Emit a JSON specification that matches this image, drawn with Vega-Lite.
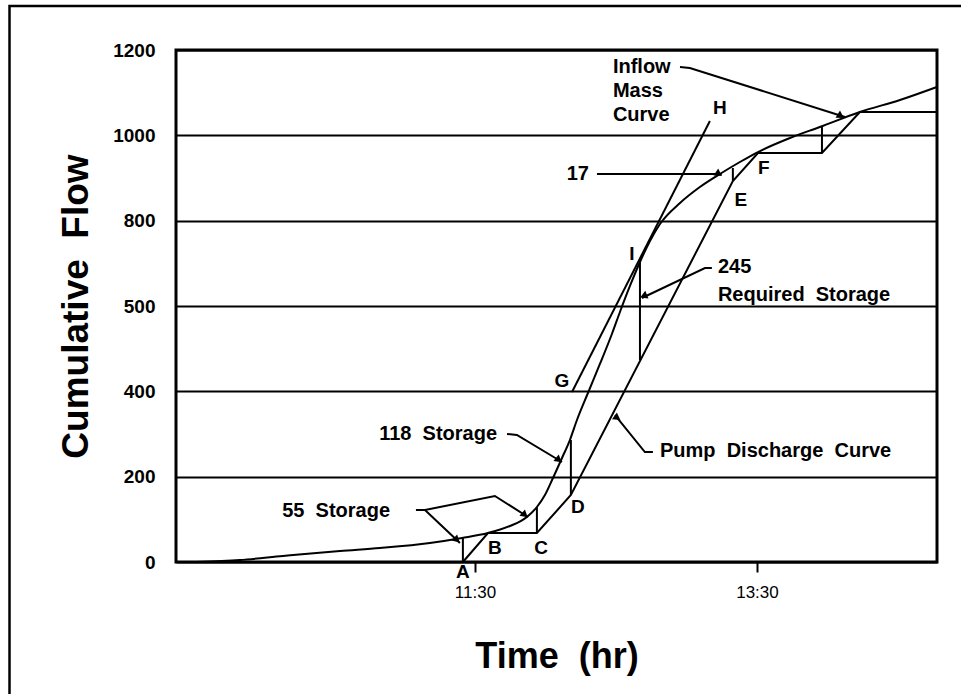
{
  "$schema": "https://vega.github.io/schema/vega-lite/v6.json",
  "autosize": {"type": "none"},
  "padding": {"left": 176, "top": 50, "right": 24, "bottom": 132},
  "width": 761,
  "height": 512,
  "background": "white",
  "config": {
    "view": {"stroke": "black", "strokeWidth": 3},
    "font": "Liberation Sans"
  },
  "datasets": {
    "frame": [{"x1": 8.198, "x2": 15.01, "y1": 1303.1, "y2": -346.9}],
    "inflow": [
      {"t": 9.521, "q": 0}, {"t": 9.833, "q": 4.7}, {"t": 10.138, "q": 14.1}, {"t": 10.542, "q": 25.8},
      {"t": 10.826, "q": 32.8}, {"t": 11.18, "q": 44.5}, {"t": 11.407, "q": 56.3}, {"t": 11.592, "q": 68.0},
      {"t": 11.748, "q": 84.4}, {"t": 11.868, "q": 105.5}, {"t": 11.939, "q": 128.9}, {"t": 11.996, "q": 157.0},
      {"t": 12.053, "q": 196.9}, {"t": 12.117, "q": 243.8}, {"t": 12.173, "q": 285.9}, {"t": 12.223, "q": 332.8},
      {"t": 12.301, "q": 396.1}, {"t": 12.386, "q": 464.1}, {"t": 12.471, "q": 534.4}, {"t": 12.528, "q": 585.9},
      {"t": 12.599, "q": 646.9}, {"t": 12.67, "q": 703.1}, {"t": 12.741, "q": 752.3}, {"t": 12.812, "q": 792.2},
      {"t": 12.954, "q": 841.4}, {"t": 13.095, "q": 878.9}, {"t": 13.237, "q": 909.4}, {"t": 13.379, "q": 937.5},
      {"t": 13.507, "q": 960.9}, {"t": 13.734, "q": 993.8}, {"t": 13.946, "q": 1019.5}, {"t": 14.23, "q": 1054.7},
      {"t": 14.514, "q": 1082.8}, {"t": 14.776, "q": 1113.3}
    ],
    "pump": [
      {"i": 1, "t": 11.414, "q": 0}, {"i": 2, "t": 11.592, "q": 68.0}, {"i": 3, "t": 11.939, "q": 68.0},
      {"i": 4, "t": 12.18, "q": 157.0}, {"i": 5, "t": 13.329, "q": 893.0}, {"i": 6, "t": 13.507, "q": 958.6},
      {"i": 7, "t": 13.961, "q": 958.6}, {"i": 8, "t": 14.23, "q": 1054.7}, {"i": 9, "t": 14.776, "q": 1054.7}
    ],
    "segments": [
      {"t": 11.414, "t2": 11.414, "q": 0, "q2": 56.25},
      {"t": 11.939, "t2": 11.939, "q": 68.0, "q2": 128.9},
      {"t": 12.18, "t2": 12.18, "q": 157.0, "q2": 285.9},
      {"t": 12.67, "t2": 12.67, "q": 703.1, "q2": 473.4},
      {"t": 13.329, "t2": 13.329, "q": 893.0, "q2": 923.4},
      {"t": 13.961, "t2": 13.961, "q": 958.6, "q2": 1019.5},
      {"t": 12.188, "t2": 13.166, "q": 398.4, "q2": 1033.6},
      {"t": 12.365, "t2": 13.25, "q": 909.4, "q2": 909.4}
    ],
    "leaders": [
      {"id": "a55A", "i": 1, "t": 11.081, "q": 121.9}, {"id": "a55A", "i": 2, "t": 11.145, "q": 121.9}, {"id": "a55A", "i": 3, "t": 11.393, "q": 44.5},
      {"id": "a55C", "i": 1, "t": 11.145, "q": 121.9}, {"id": "a55C", "i": 2, "t": 11.641, "q": 154.7}, {"id": "a55C", "i": 3, "t": 11.876, "q": 105.5},
      {"id": "a118", "i": 1, "t": 11.727, "q": 300.0}, {"id": "a118", "i": 2, "t": 11.797, "q": 297.7}, {"id": "a118", "i": 3, "t": 12.117, "q": 234.4},
      {"id": "a245", "i": 1, "t": 13.18, "q": 689.1}, {"id": "a245", "i": 2, "t": 13.131, "q": 689.1}, {"id": "a245", "i": 3, "t": 12.684, "q": 618.8},
      {"id": "apump", "i": 1, "t": 12.762, "q": 257.8}, {"id": "apump", "i": 2, "t": 12.705, "q": 257.8}, {"id": "apump", "i": 3, "t": 12.493, "q": 344.5},
      {"id": "ainflow", "i": 1, "t": 12.954, "q": 1160.2}, {"id": "ainflow", "i": 2, "t": 13.024, "q": 1157.8}, {"id": "ainflow", "i": 3, "t": 14.124, "q": 1043.0}
    ],
    "heads": [
      {"arrow": "a55A", "t": 11.372, "q": 51.6},
      {"arrow": "a55C", "t": 11.854, "q": 110.2},
      {"arrow": "a118", "t": 12.095, "q": 239.1},
      {"arrow": "a245", "t": 12.71, "q": 622.7},
      {"arrow": "apump", "t": 12.51, "q": 337.5},
      {"arrow": "a17", "t": 13.23, "q": 909.4},
      {"arrow": "ainflow", "t": 14.095, "q": 1045.3}
    ],
    "notesRight": [
      {"label": "55\u00a0\u00a0Storage", "t": 10.897, "q": 119.5},
      {"label": "118\u00a0\u00a0Storage", "t": 11.656, "q": 300.0},
      {"label": "17", "t": 12.308, "q": 909.4}
    ],
    "notesLeft": [
      {"label": "245", "t": 13.223, "q": 691.4},
      {"label": "Required\u00a0\u00a0Storage", "t": 13.223, "q": 625.8},
      {"label": "Pump\u00a0\u00a0Discharge\u00a0\u00a0Curve", "t": 12.812, "q": 260.2},
      {"label": "Inflow", "t": 12.478, "q": 1160.2},
      {"label": "Mass", "t": 12.478, "q": 1103.9},
      {"label": "Curve", "t": 12.478, "q": 1047.7}
    ],
    "letters": [
      {"label": "A", "t": 11.414, "q": -22.3},
      {"label": "B", "t": 11.641, "q": 32.8},
      {"label": "C", "t": 11.968, "q": 32.8},
      {"label": "D", "t": 12.23, "q": 128.9},
      {"label": "E", "t": 13.386, "q": 848.4},
      {"label": "F", "t": 13.549, "q": 923.4},
      {"label": "G", "t": 12.117, "q": 424.2},
      {"label": "H", "t": 13.237, "q": 1064.1},
      {"label": "I", "t": 12.613, "q": 721.9}
    ]
  },
  "encoding": {
    "x": {
      "field": "t", "type": "quantitative",
      "scale": {"domain": [9.379, 14.777], "nice": false, "zero": false},
      "axis": {
        "values": [11.5, 13.5],
        "labelExpr": "datum.value == 11.5 ? '11:30' : '13:30'",
        "grid": false, "domain": false,
        "ticks": true, "tickColor": "black", "tickWidth": 2, "tickSize": 10,
        "labelFont": "Liberation Sans", "labelFontSize": 17, "labelColor": "black",
        "labelPadding": 12,
        "title": "Time\u00a0\u00a0(hr)",
        "titleFont": "Liberation Sans", "titleFontSize": 36, "titleFontWeight": "bold", "titleColor": "black",
        "titleX": 380.5, "titleY": 105, "titleBaseline": "alphabetic", "titleAlign": "center"
      }
    },
    "y": {
      "field": "q", "type": "quantitative",
      "scale": {"domain": [0, 1200], "nice": false},
      "axis": {
        "values": [0, 200, 400, 600, 800, 1000, 1200],
        "labelExpr": "datum.value == 600 ? '500' : datum.label",
        "format": "d",
        "grid": true, "gridColor": "black", "gridWidth": 2, "gridOpacity": 1,
        "domain": false, "ticks": false,
        "labelFont": "Liberation Sans", "labelFontSize": 19, "labelFontWeight": "bold", "labelColor": "black",
        "labelPadding": 21,
        "title": "Cumulative\u00a0\u00a0Flow",
        "titleFont": "Liberation Sans", "titleFontSize": 37, "titleFontWeight": "bold", "titleColor": "black",
        "titleX": -89, "titleY": 256, "titleBaseline": "alphabetic", "titleAlign": "center", "titleAngle": -90
      }
    }
  },
  "layer": [
    {
      "data": {"name": "frame"},
      "mark": {"type": "rect", "fill": null, "stroke": "black", "strokeWidth": 2.5, "clip": false},
      "encoding": {
        "x": {"field": "x1", "type": "quantitative"},
        "x2": {"field": "x2"},
        "y": {"field": "y1", "type": "quantitative"},
        "y2": {"field": "y2"}
      }
    },
    {
      "data": {"name": "inflow"},
      "mark": {"type": "line", "color": "black", "strokeWidth": 2, "interpolate": "monotone"},
      "encoding": {}
    },
    {
      "data": {"name": "pump"},
      "mark": {"type": "line", "color": "black", "strokeWidth": 2},
      "encoding": {"order": {"field": "i", "type": "quantitative"}}
    },
    {
      "data": {"name": "segments"},
      "mark": {"type": "rule", "color": "black", "strokeWidth": 2},
      "encoding": {"x2": {"field": "t2"}, "y2": {"field": "q2"}}
    },
    {
      "data": {"name": "leaders"},
      "mark": {"type": "line", "color": "black", "strokeWidth": 2, "clip": false},
      "encoding": {"detail": {"field": "id"}, "order": {"field": "i", "type": "quantitative"}}
    },
    {
      "data": {"name": "heads"},
      "mark": {"type": "point", "shape": "triangle-right", "filled": true, "color": "black", "opacity": 1, "size": 70},
      "encoding": {
        "angle": {
          "field": "arrow", "type": "nominal",
          "scale": {"domain": ["a55A", "a55C", "a118", "a245", "apump", "a17", "ainflow"], "range": [43, 32, 31, 154, 231, 0, 17]},
          "legend": null
        }
      }
    },
    {
      "data": {"name": "notesRight"},
      "mark": {"type": "text", "align": "right", "baseline": "middle", "font": "Liberation Sans", "fontSize": 20, "fontWeight": "bold", "color": "black"},
      "encoding": {"text": {"field": "label"}}
    },
    {
      "data": {"name": "notesLeft"},
      "mark": {"type": "text", "align": "left", "baseline": "middle", "font": "Liberation Sans", "fontSize": 20, "fontWeight": "bold", "color": "black"},
      "encoding": {"text": {"field": "label"}}
    },
    {
      "data": {"name": "letters"},
      "mark": {"type": "text", "align": "center", "baseline": "middle", "font": "Liberation Sans", "fontSize": 19, "fontWeight": "bold", "color": "black", "clip": false},
      "encoding": {"text": {"field": "label"}}
    }
  ]
}
